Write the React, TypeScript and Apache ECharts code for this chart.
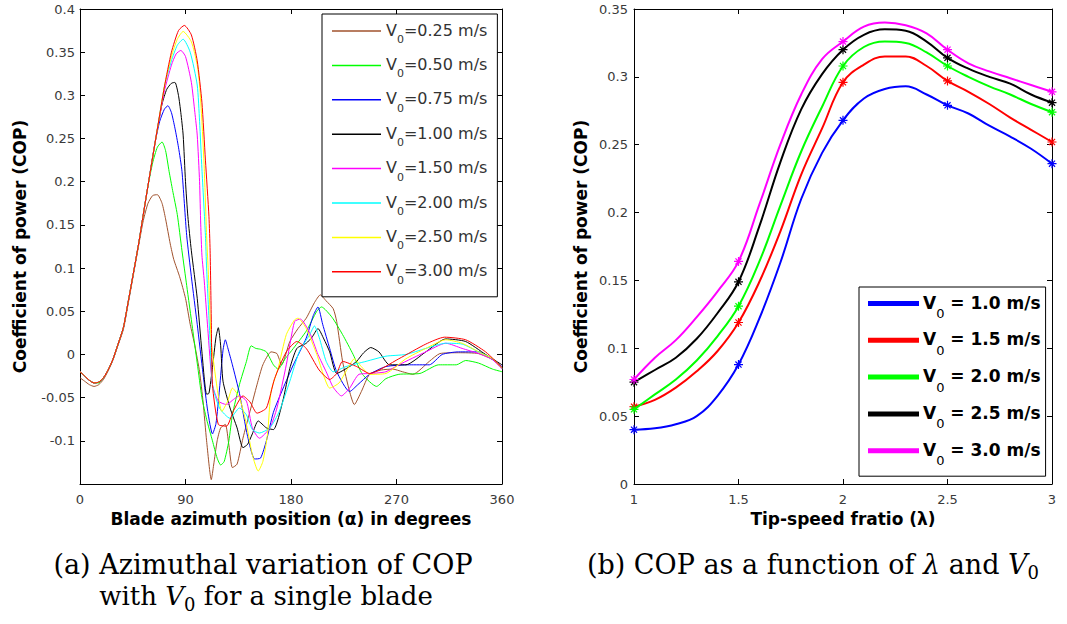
import React, { useEffect, useRef } from 'react';
import * as echarts from 'echarts';

// ---------- Left panel: COP vs blade azimuth (deg) ----------
const v025: [number, number][] = [[0,-0.027],[4,-0.031],[8,-0.035],[12,-0.037],[16,-0.035],[20,-0.029],[24,-0.019],[28,-0.007],[32,0.009],[37,0.029],[41,0.058],[45,0.088],[50,0.126],[54,0.155],[58,0.175],[62,0.184],[66,0.185],[70,0.175],[73,0.157],[77,0.128],[80,0.11],[85,0.09],[90,0.065],[94,0.035],[98,0.01],[102,-0.02],[105,-0.055],[108,-0.1],[112,-0.145],[114,-0.128],[117,-0.1],[120,-0.085],[124,-0.081],[127,-0.105],[130,-0.131],[134,-0.127],[139,-0.097],[145,-0.066],[151,-0.035],[156,-0.012],[163,0.003],[168,0.001],[172,-0.012],[179,0.015],[186,0.03],[193,0.042],[200,0.06],[205,0.069],[210,0.062],[216,0.053],[219,0.038],[224,-0.008],[230,-0.043],[234,-0.058],[240,-0.043],[247,-0.023],[257,-0.018],[267,-0.017],[275,-0.02],[284,-0.023],[298,-0.008],[307,0.001],[323,0.002],[340,0.001],[352,-0.006],[360,-0.016]];
const v050: [number, number][] = [[0,-0.02],[4,-0.025],[8,-0.03],[12,-0.033],[16,-0.033],[20,-0.027],[24,-0.018],[28,-0.006],[32,0.01],[37,0.031],[41,0.06],[45,0.09],[50,0.128],[54,0.162],[58,0.195],[62,0.222],[66,0.24],[70,0.246],[73,0.236],[76,0.212],[79,0.19],[83,0.162],[87,0.12],[91,0.08],[96,0.03],[100,-0.01],[104,-0.05],[108,-0.075],[113,-0.1],[117,-0.12],[120,-0.128],[123,-0.124],[127,-0.1],[130,-0.07],[136,-0.035],[142,-0.008],[146,0.01],[150,0.007],[154,0.006],[159,0.003],[165,-0.012],[169,-0.017],[175,-0.005],[182,0.007],[193,0.027],[202,0.05],[206,0.055],[215,0.043],[224,0.023],[233,0],[241,-0.023],[253,-0.037],[261,-0.028],[272,-0.023],[290,-0.022],[306,-0.012],[321,-0.012],[329,-0.007],[340,-0.01],[352,-0.017],[360,-0.02]];
const v075: [number, number][] = [[0,-0.02],[4,-0.025],[8,-0.03],[12,-0.033],[16,-0.032],[20,-0.027],[24,-0.018],[28,-0.006],[32,0.01],[37,0.031],[41,0.06],[45,0.09],[50,0.128],[54,0.162],[60,0.212],[64,0.245],[68,0.27],[72,0.284],[75,0.288],[78,0.28],[81,0.262],[84,0.24],[87,0.212],[91,0.138],[95,0.09],[100,0.035],[105,-0.023],[109,-0.066],[113,-0.092],[116,-0.08],[119,-0.04],[122,0.005],[124,0.017],[126,0.008],[130,-0.012],[136,-0.045],[143,-0.095],[149,-0.121],[154,-0.12],[159,-0.1],[165,-0.067],[173,-0.04],[182,-0.012],[193,0.019],[199,0.045],[203,0.055],[207,0.035],[213,0.007],[219,-0.02],[230,-0.043],[237,-0.035],[247,-0.023],[261,-0.014],[281,-0.012],[298,-0.012],[309,0],[323,0.003],[340,0.003],[352,-0.006],[360,-0.014]];
const v100: [number, number][] = [[0,-0.02],[4,-0.025],[8,-0.03],[12,-0.033],[16,-0.032],[20,-0.027],[24,-0.018],[28,-0.006],[32,0.01],[37,0.031],[41,0.06],[45,0.09],[50,0.128],[54,0.162],[60,0.212],[66,0.261],[70,0.29],[74,0.307],[78,0.314],[81,0.315],[84,0.3],[86,0.28],[88,0.254],[90,0.2],[92,0.16],[95,0.12],[100,0.065],[104,0.003],[108,-0.046],[110,-0.045],[113,-0.015],[116,0.02],[118,0.031],[120,0.01],[122,-0.031],[128,-0.062],[134,-0.085],[139,-0.108],[143,-0.104],[147,-0.092],[152,-0.077],[159,-0.085],[165,-0.087],[173,-0.054],[179,-0.016],[185,0.007],[193,0.013],[198,0.02],[203,0.03],[208,0.018],[213,0.003],[219,-0.022],[230,-0.014],[236,-0.008],[242,0.002],[248,0.008],[255,0.003],[264,-0.012],[278,-0.012],[295,0.003],[312,0.018],[329,0.015],[346,0],[360,-0.012]];
const v150: [number, number][] = [[0,-0.02],[4,-0.025],[8,-0.03],[12,-0.033],[16,-0.032],[20,-0.027],[24,-0.018],[28,-0.006],[32,0.01],[37,0.031],[41,0.06],[45,0.09],[50,0.128],[54,0.162],[60,0.212],[66,0.261],[72,0.305],[78,0.335],[82,0.348],[86,0.352],[90,0.345],[95,0.315],[98,0.28],[100,0.254],[102,0.2],[103,0.15],[104,0.115],[106,0.085],[109,0.03],[113,-0.035],[118,-0.054],[125,-0.058],[131,-0.052],[136,-0.048],[142,-0.054],[147,-0.085],[153,-0.097],[162,-0.085],[168,-0.062],[176,-0.012],[183,0.038],[188,0.041],[196,0.025],[203,0],[210,-0.02],[216,-0.038],[223,-0.048],[230,-0.039],[238,-0.023],[249,-0.022],[261,-0.02],[272,-0.012],[295,0.003],[312,0.013],[326,0.007],[340,0.001],[352,-0.006],[360,-0.017]];
const v200: [number, number][] = [[0,-0.02],[4,-0.025],[8,-0.03],[12,-0.033],[16,-0.032],[20,-0.027],[24,-0.018],[28,-0.006],[32,0.01],[37,0.031],[41,0.06],[45,0.09],[50,0.128],[54,0.162],[60,0.212],[66,0.261],[72,0.31],[78,0.34],[83,0.358],[88,0.365],[94,0.35],[100,0.312],[102,0.27],[104,0.215],[107,0.138],[108,0.1],[111,0.015],[113,-0.035],[119,-0.062],[128,-0.074],[136,-0.062],[142,-0.07],[147,-0.087],[153,-0.091],[162,-0.085],[170,-0.066],[179,-0.031],[187,0.003],[196,0.023],[200,0.033],[204,0.02],[210,-0.008],[216,-0.02],[227,-0.014],[244,-0.008],[261,-0.002],[278,0],[295,0.007],[312,0.013],[326,0.012],[340,0.003],[352,-0.005],[360,-0.016]];
const v250: [number, number][] = [[0,-0.02],[4,-0.025],[8,-0.03],[12,-0.033],[16,-0.032],[20,-0.027],[24,-0.018],[28,-0.006],[32,0.01],[37,0.031],[41,0.06],[45,0.09],[50,0.128],[54,0.162],[60,0.212],[66,0.261],[72,0.31],[78,0.345],[83,0.365],[88,0.374],[95,0.362],[100,0.335],[102,0.312],[104,0.27],[106,0.215],[108,0.138],[110,0.08],[112,0.015],[117,-0.039],[121,-0.066],[126,-0.054],[130,-0.039],[136,-0.05],[142,-0.081],[147,-0.116],[152,-0.135],[156,-0.124],[160,-0.092],[163,-0.043],[169,-0.016],[176,0.023],[183,0.04],[186,0.042],[193,0.03],[202,0],[208,-0.025],[213,-0.039],[221,-0.033],[228,-0.017],[234,-0.005],[240,-0.014],[247,-0.023],[261,-0.022],[278,-0.005],[295,0.007],[312,0.017],[326,0.013],[340,0.003],[352,-0.005],[360,-0.016]];
const v300: [number, number][] = [[0,-0.02],[4,-0.025],[8,-0.03],[12,-0.033],[16,-0.032],[20,-0.027],[24,-0.018],[28,-0.006],[32,0.01],[37,0.031],[41,0.06],[45,0.09],[50,0.128],[54,0.162],[60,0.212],[66,0.261],[72,0.31],[78,0.35],[84,0.375],[89,0.381],[95,0.37],[100,0.34],[104,0.292],[107,0.225],[110,0.16],[111,0.12],[112,0.04],[113,-0.035],[118,-0.081],[125,-0.083],[131,-0.065],[139,-0.048],[145,-0.055],[151,-0.068],[159,-0.062],[166,-0.028],[176,0.003],[185,0.015],[193,0.007],[204,-0.018],[213,-0.029],[219,-0.022],[224,-0.008],[236,-0.014],[247,-0.022],[272,-0.005],[295,0.012],[311,0.02],[329,0.017],[346,0.003],[360,-0.015]];

const leftNames = ['V0=0.25 m/s', 'V0=0.50 m/s', 'V0=0.75 m/s', 'V0=1.00 m/s', 'V0=1.50 m/s', 'V0=2.00 m/s', 'V0=2.50 m/s', 'V0=3.00 m/s'];
const leftData = [v025, v050, v075, v100, v150, v200, v250, v300];
const leftColors = ['#a0522d', '#00ff00', '#0000ff', '#000000', '#ff00ff', '#00ffff', '#ffff00', '#ff0000'];

// ---------- Right panel: COP vs tip-speed ratio ----------
const tsr = [1.0, 1.1, 1.2, 1.3, 1.4, 1.5, 1.6, 1.7, 1.8, 1.9, 2.0, 2.1, 2.2, 2.3, 2.4, 2.5, 2.6, 2.7, 2.8, 2.9, 3.0];
const cop10 = [0.040, 0.041, 0.044, 0.050, 0.065, 0.088, 0.122, 0.163, 0.210, 0.244, 0.268, 0.284, 0.291, 0.293, 0.287, 0.279, 0.273, 0.264, 0.256, 0.247, 0.236];
const cop15 = [0.057, 0.062, 0.071, 0.083, 0.098, 0.119, 0.149, 0.186, 0.228, 0.262, 0.296, 0.309, 0.315, 0.315, 0.308, 0.297, 0.289, 0.280, 0.270, 0.261, 0.252];
const cop20 = [0.055, 0.066, 0.077, 0.091, 0.109, 0.131, 0.164, 0.205, 0.245, 0.278, 0.308, 0.322, 0.326, 0.325, 0.318, 0.308, 0.300, 0.293, 0.287, 0.280, 0.274];
const cop25 = [0.075, 0.084, 0.093, 0.107, 0.126, 0.149, 0.190, 0.237, 0.276, 0.302, 0.320, 0.331, 0.335, 0.334, 0.326, 0.314, 0.306, 0.300, 0.295, 0.287, 0.281];
const cop30 = [0.077, 0.093, 0.106, 0.123, 0.142, 0.164, 0.206, 0.250, 0.287, 0.313, 0.326, 0.337, 0.340, 0.338, 0.332, 0.320, 0.310, 0.304, 0.299, 0.294, 0.289];
const markerTsr = [1, 1.5, 2, 2.5, 3];

const rightNames = ['V0 = 1.0 m/s', 'V0 = 1.5 m/s', 'V0 = 2.0 m/s', 'V0 = 2.5 m/s', 'V0 = 3.0 m/s'];
const rightData = [cop10, cop15, cop20, cop25, cop30];
const rightColors = ['#0000ff', '#ff0000', '#00ff00', '#000000', '#ff00ff'];

const FONT = 'DejaVu Sans';
const SERIF = 'DejaVu Serif';
const STAR = 'path://M5 0L5 10M0 5L10 5M1.6 1.6L8.4 8.4M1.6 8.4L8.4 1.6';

const fmtTick = (v: number) => {
  const r = parseFloat(v.toFixed(2));
  return String(r === 0 ? 0 : r);
};

function boxAxes(gridIndex: number, min: number, max: number, interval: number, isX: boolean) {
  return {
    gridIndex,
    type: 'value',
    min,
    max,
    interval,
    position: isX ? 'top' : 'right',
    axisLine: { show: true, onZero: false, lineStyle: { color: '#000', width: 1 } },
    axisTick: { show: true, inside: true, length: 5, lineStyle: { color: '#000' } },
    axisLabel: { show: false },
    splitLine: { show: false },
  };
}

export default function App() {
  const ref = useRef<HTMLDivElement>(null);

  useEffect(() => {
    const chart = echarts.init(ref.current!, null, { renderer: 'svg' });

    const axisCommon = {
      type: 'value',
      axisLine: { show: true, onZero: false, lineStyle: { color: '#000', width: 1 } },
      axisTick: { show: true, inside: true, length: 5, lineStyle: { color: '#000' } },
      splitLine: { show: false },
      nameLocation: 'middle',
      nameTextStyle: { fontFamily: FONT, fontWeight: 'bold', fontSize: 17, color: '#000' },
    };
    const labelStyle = { color: '#3a3a3a', fontFamily: FONT, fontSize: 13 };

    const leftSeries = leftData.map((d, i) => ({
      name: leftNames[i],
      type: 'line',
      xAxisIndex: 0,
      yAxisIndex: 0,
      data: d,
      showSymbol: false,
      smooth: 0.2,
      color: leftColors[i],
      lineStyle: { width: 1, color: leftColors[i] },
      z: 2 + i,
    }));

    const rightSeries = rightData.map((vals, i) => ({
      name: rightNames[i],
      type: 'line',
      xAxisIndex: 2,
      yAxisIndex: 2,
      data: tsr.map((x, k) => ({
        value: [x, vals[k]],
        symbol: markerTsr.some((m) => Math.abs(m - x) < 1e-6) ? STAR : 'none',
      })),
      symbolSize: 9,
      showSymbol: true,
      showAllSymbol: true,
      smooth: 0.4,
      color: rightColors[i],
      itemStyle: { color: rightColors[i], borderColor: rightColors[i], borderWidth: 1.2 },
      lineStyle: { width: 2, color: rightColors[i] },
      z: 2 + i,
    }));

    const subFmt = (name: string) => `{v|V}{s|0}{v|${name.slice(2)}}`;

    const option: any = {
      animation: false,
      backgroundColor: '#fff',
      grid: [
        { left: 80, right: 565, top: 9, bottom: 140 },
        { left: 634, right: 15, top: 9, bottom: 140 },
      ],
      xAxis: [
        {
          ...axisCommon,
          gridIndex: 0, min: 0, max: 360, interval: 90, position: 'bottom',
          axisLabel: { ...labelStyle, margin: 9 },
          name: 'Blade azimuth position (α) in degrees',
          nameGap: 26,
        },
        boxAxes(0, 0, 360, 90, true),
        {
          ...axisCommon,
          gridIndex: 1, min: 1, max: 3, interval: 0.5, position: 'bottom',
          axisLabel: { ...labelStyle, margin: 9 },
          name: 'Tip-speed fratio (λ)',
          nameGap: 26,
        },
        boxAxes(1, 1, 3, 0.5, true),
      ],
      yAxis: [
        {
          ...axisCommon,
          gridIndex: 0, min: -0.15, max: 0.4, interval: 0.05, position: 'left',
          axisLabel: { ...labelStyle, margin: 5, formatter: (v: number) => (v < -0.12 ? '' : fmtTick(v)) },
          name: 'Coefficient of power (COP)',
          nameGap: 52,
        },
        boxAxes(0, -0.15, 0.4, 0.05, false),
        {
          ...axisCommon,
          gridIndex: 1, min: 0, max: 0.35, interval: 0.05, position: 'left',
          axisLabel: { ...labelStyle, margin: 6, formatter: fmtTick },
          name: 'Coefficient of power (COP)',
          nameGap: 45,
        },
        boxAxes(1, 0, 0.35, 0.05, false),
      ],
      legend: [
        {
          data: leftNames,
          orient: 'vertical',
          left: 322,
          top: 14,
          icon: 'rect',
          itemWidth: 49,
          itemHeight: 1.5,
          itemGap: 11.4,
          padding: [8, 10, 11, 10],
          backgroundColor: '#fff',
          borderColor: '#000',
          borderWidth: 1,
          selectedMode: false,
          formatter: subFmt,
          textStyle: {
            rich: {
              v: { fontFamily: FONT, fontSize: 16, color: '#333', lineHeight: 18, verticalAlign: 'top' },
              s: { fontFamily: FONT, fontSize: 11, color: '#333', lineHeight: 11, padding: [12, 0, 0, 0], verticalAlign: 'top' },
            },
          },
        },
        {
          data: rightNames,
          orient: 'vertical',
          left: 859,
          top: 287,
          icon: 'rect',
          itemWidth: 49,
          itemHeight: 3,
          itemGap: 10.8,
          padding: [7, 5, 9, 9],
          backgroundColor: '#fff',
          borderColor: '#000',
          borderWidth: 1,
          selectedMode: false,
          formatter: subFmt,
          textStyle: {
            rich: {
              v: { fontFamily: FONT, fontSize: 17, fontWeight: 'bold', color: '#000', lineHeight: 19, verticalAlign: 'top' },
              s: { fontFamily: FONT, fontSize: 13, color: '#000', lineHeight: 13, padding: [13, 0, 0, 0], verticalAlign: 'top' },
            },
          },
        },
      ],
      graphic: [
        {
          type: 'text', x: 263, y: 566, z: 10,
          style: {
            text: '{n|(a) Azimuthal variation of COP}',
            align: 'center', verticalAlign: 'middle',
            rich: { n: { fontFamily: SERIF, fontSize: 27, fill: '#000', lineHeight: 30, verticalAlign: 'top' } },
          },
        },
        {
          type: 'text', x: 266, y: 598, z: 10,
          style: {
            text: '{n|with }{i|V}{s|0}{n| for a single blade}',
            align: 'center', verticalAlign: 'middle',
            rich: {
              n: { fontFamily: SERIF, fontSize: 26, fill: '#000', lineHeight: 30, verticalAlign: 'top' },
              i: { fontFamily: SERIF, fontSize: 26, fontStyle: 'italic', fill: '#000', lineHeight: 30, verticalAlign: 'top' },
              s: { fontFamily: SERIF, fontSize: 18, fill: '#000', lineHeight: 18, padding: [12, 0, 0, 0], verticalAlign: 'top' },
            },
          },
        },
        {
          type: 'text', x: 813, y: 566, z: 10,
          style: {
            text: '{n|(b) COP as a function of }{i|λ}{n| and }{i|V}{s|0}',
            align: 'center', verticalAlign: 'middle',
            rich: {
              n: { fontFamily: SERIF, fontSize: 27, fill: '#000', lineHeight: 30, verticalAlign: 'top' },
              i: { fontFamily: SERIF, fontSize: 27, fontStyle: 'italic', fill: '#000', lineHeight: 30, verticalAlign: 'top' },
              s: { fontFamily: SERIF, fontSize: 18, fill: '#000', lineHeight: 18, padding: [12, 0, 0, 0], verticalAlign: 'top' },
            },
          },
        },
      ],
      series: [...leftSeries, ...rightSeries],
    };

    chart.setOption(option);
    return () => chart.dispose();
  }, []);

  return (
    <div
      ref={ref}
      style={{ position: 'fixed', left: 0, top: 0, width: 1067, height: 624, background: '#fff' }}
    />
  );
}
